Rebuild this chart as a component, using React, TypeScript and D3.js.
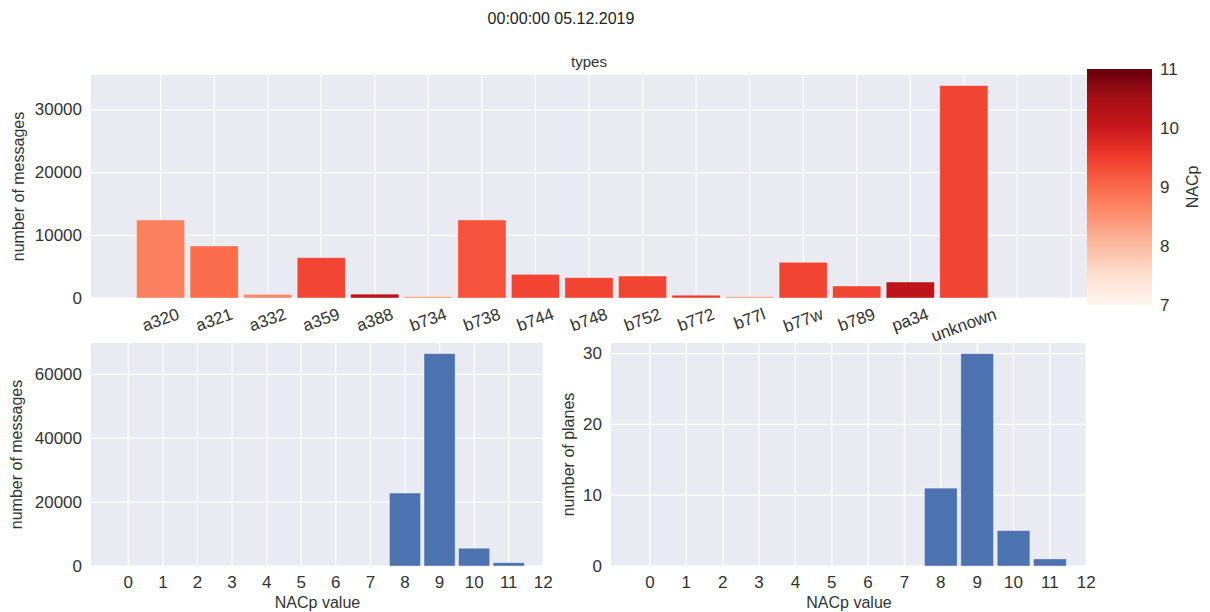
import React, { useEffect, useRef } from 'react'
import * as d3 from 'd3'

// aircraft types, messages per type and mean NACp per type (colour)
const types = ['a320', 'a321', 'a332', 'a359', 'a388', 'b734', 'b738', 'b744', 'b748', 'b752', 'b772', 'b77l', 'b77w', 'b789', 'pa34', 'unknown']
const typeMessages = [12450, 8300, 600, 6430, 620, 260, 12450, 3780, 3240, 3510, 450, 250, 5700, 1915, 2550, 33880]
const typeNacp = [8.71, 8.96, 8.6, 9.39, 10.2, 8.4, 9.24, 9.4, 9.4, 9.4, 9.5, 8.35, 9.4, 9.4, 10.2, 9.4]
const typeTickCount = 18

// NACp histograms
const nacpValues = [8, 9, 10, 11]
const nacpMessages = [22830, 66470, 5560, 1040]
const nacpPlanes = [11, 30, 5, 1]
const nacpTicks = d3.range(0, 13)

const topYTicks = [0, 10000, 20000, 30000]
const msgYTicks = [0, 20000, 40000, 60000]
const planeYTicks = [0, 10, 20, 30]
const cbarTicks = [7, 8, 9, 10, 11]

const W = 1210
const H = 612
const BG = '#eaeaf2'
const INK = '#333'
const BLUE = '#4c72b0'
const FONT = '"Liberation Sans", Arial, Helvetica, sans-serif'
const TICK = 17
const LABEL = 16

// matplotlib "Reds" = linear ramp through the 9 brewer colours
const reds = d3
  .scaleLinear<string>()
  .domain(d3.range(9).map((i) => 7 + (4 * i) / 8))
  .range(d3.schemeReds[9])
  .interpolate(d3.interpolateRgb)

type Box = { left: number; right: number; top: number; bottom: number }

const App = () => {
  const svgRef = useRef<SVGSVGElement>(null)

  useEffect(() => {
    const svg = d3.select(svgRef.current)
    svg.selectAll('*').remove()
    svg.attr('font-family', FONT)

    const panel = (box: Box, xDomain: number[], yDomain: number[], xTicks: number[], yTicks: number[]) => {
      const x = d3.scaleLinear().domain(xDomain).range([box.left, box.right])
      const y = d3.scaleLinear().domain(yDomain).range([box.bottom, box.top])
      const g = svg.append('g')
      g.append('rect')
        .attr('x', box.left)
        .attr('y', box.top)
        .attr('width', box.right - box.left)
        .attr('height', box.bottom - box.top)
        .attr('fill', BG)
      g.selectAll('line.vg')
        .data(xTicks)
        .join('line')
        .attr('class', 'vg')
        .attr('x1', (d) => x(d))
        .attr('x2', (d) => x(d))
        .attr('y1', box.top)
        .attr('y2', box.bottom)
        .attr('stroke', '#fff')
        .attr('stroke-width', 1.2)
      g.selectAll('line.hg')
        .data(yTicks)
        .join('line')
        .attr('class', 'hg')
        .attr('x1', box.left)
        .attr('x2', box.right)
        .attr('y1', (d) => y(d))
        .attr('y2', (d) => y(d))
        .attr('stroke', '#fff')
        .attr('stroke-width', 1.2)
      g.selectAll('text.yt')
        .data(yTicks)
        .join('text')
        .attr('class', 'yt')
        .attr('x', box.left - 9)
        .attr('y', (d) => y(d))
        .attr('text-anchor', 'end')
        .attr('dominant-baseline', 'central')
        .attr('font-size', TICK)
        .attr('fill', INK)
        .text((d) => String(d))
      return { g, x, y }
    }

    const yLabel = (text: string, cx: number, cy: number) => {
      svg.append('text')
        .attr('transform', `translate(${cx},${cy}) rotate(-90)`)
        .attr('text-anchor', 'middle')
        .attr('dominant-baseline', 'central')
        .attr('font-size', LABEL)
        .attr('fill', INK)
        .text(text)
    }

    // title
    svg.append('text')
      .attr('x', 561)
      .attr('y', 18)
      .attr('text-anchor', 'middle')
      .attr('dominant-baseline', 'central')
      .attr('font-size', 16)
      .attr('fill', '#222')
      .text('00:00:00 05.12.2019')

    // top: messages per type
    const topBox = { left: 91, right: 1087, top: 75, bottom: 298 }
    const topMax = d3.max(typeMessages)! * 1.05
    const top = panel(topBox, [-1.3, 17.3], [0, topMax], d3.range(typeTickCount), topYTicks)
    top.g.selectAll('rect.bar')
      .data(types)
      .join('rect')
      .attr('class', 'bar')
      .attr('x', (_, i) => top.x(i - 0.45))
      .attr('width', top.x(0.45) - top.x(-0.45))
      .attr('y', (_, i) => top.y(typeMessages[i]))
      .attr('height', (_, i) => top.y(0) - top.y(typeMessages[i]))
      .attr('fill', (_, i) => reds(typeNacp[i]))
      .attr('stroke', '#fff')
      .attr('stroke-opacity', 0.5)
      .attr('stroke-width', 0.8)
    const sin = Math.sin((20 * Math.PI) / 180)
    const cos = Math.cos((20 * Math.PI) / 180)
    top.g.selectAll('text.xt')
      .data(types)
      .join('text')
      .attr('class', 'xt')
      .attr('text-anchor', 'middle')
      .attr('dominant-baseline', 'central')
      .attr('font-size', TICK)
      .attr('fill', INK)
      .text((d) => d)
      .attr('transform', function (_, i) {
        const len = (this as SVGTextElement).getComputedTextLength()
        const cy = topBox.bottom + 7.5 + (len * sin + TICK * cos) / 2
        return `translate(${top.x(i)},${cy}) rotate(-20)`
      })
    svg.append('text')
      .attr('x', (topBox.left + topBox.right) / 2)
      .attr('y', 67)
      .attr('text-anchor', 'middle')
      .attr('font-size', 15)
      .attr('fill', INK)
      .text('types')
    yLabel('number of messages', 18, (topBox.top + topBox.bottom) / 2)

    // colorbar
    const cb = { left: 1087, right: 1152, top: 69, bottom: 305 }
    const cy = d3.scaleLinear().domain([7, 11]).range([cb.bottom, cb.top])
    const grad = svg.append('defs').append('linearGradient')
      .attr('id', 'nacpGrad')
      .attr('x1', 0).attr('y1', 1).attr('x2', 0).attr('y2', 0)
    grad.selectAll('stop')
      .data(d3.range(0, 41).map((i) => 7 + i / 10))
      .join('stop')
      .attr('offset', (d) => (d - 7) / 4)
      .attr('stop-color', (d) => reds(d))
    svg.append('rect')
      .attr('x', cb.left)
      .attr('y', cb.top)
      .attr('width', cb.right - cb.left)
      .attr('height', cb.bottom - cb.top)
      .attr('fill', 'url(#nacpGrad)')
    svg.selectAll('text.cbt')
      .data(cbarTicks)
      .join('text')
      .attr('class', 'cbt')
      .attr('x', cb.right + 8)
      .attr('y', (d) => cy(d))
      .attr('dominant-baseline', 'central')
      .attr('font-size', TICK)
      .attr('fill', INK)
      .text((d) => String(d))
    yLabel('NACp', 1192, 187)

    // bottom left: messages per NACp value
    const blBox = { left: 91, right: 544, top: 343, bottom: 566 }
    const bl = panel(blBox, [-1.08, 12.02], [0, d3.max(nacpMessages)! * 1.05], nacpTicks, msgYTicks)
    // bottom right: planes per NACp value
    const brBox = { left: 611, right: 1087, top: 343, bottom: 566 }
    const br = panel(brBox, [-1.07, 12.02], [0, d3.max(nacpPlanes)! * 1.05], nacpTicks, planeYTicks)

    const hist = (p: typeof bl, box: Box, values: number[]) => {
      p.g.selectAll('rect.bar')
        .data(nacpValues)
        .join('rect')
        .attr('class', 'bar')
        .attr('x', (d) => p.x(d - 0.45))
        .attr('width', p.x(0.45) - p.x(-0.45))
        .attr('y', (_, i) => p.y(values[i]))
        .attr('height', (_, i) => p.y(0) - p.y(values[i]))
        .attr('fill', BLUE)
        .attr('stroke', '#fff')
        .attr('stroke-opacity', 0.5)
        .attr('stroke-width', 0.8)
      p.g.selectAll('text.xt')
        .data(nacpTicks)
        .join('text')
        .attr('class', 'xt')
        .attr('x', (d) => p.x(d))
        .attr('y', box.bottom + 16)
        .attr('text-anchor', 'middle')
        .attr('dominant-baseline', 'central')
        .attr('font-size', TICK)
        .attr('fill', INK)
        .text((d) => String(d))
      p.g.append('text')
        .attr('x', (box.left + box.right) / 2)
        .attr('y', 608)
        .attr('text-anchor', 'middle')
        .attr('font-size', LABEL)
        .attr('fill', INK)
        .text('NACp value')
    }
    hist(bl, blBox, nacpMessages)
    hist(br, brBox, nacpPlanes)
    yLabel('number of messages', 16, (blBox.top + blBox.bottom) / 2)
    yLabel('number of planes', 568, (brBox.top + brBox.bottom) / 2)
  }, [])

  return (
    <div style={{ position: 'absolute', left: 0, top: 0 }}>
      <svg ref={svgRef} width={W} height={H} style={{ display: 'block', background: '#fff' }}></svg>
    </div>
  )
}

export default App
